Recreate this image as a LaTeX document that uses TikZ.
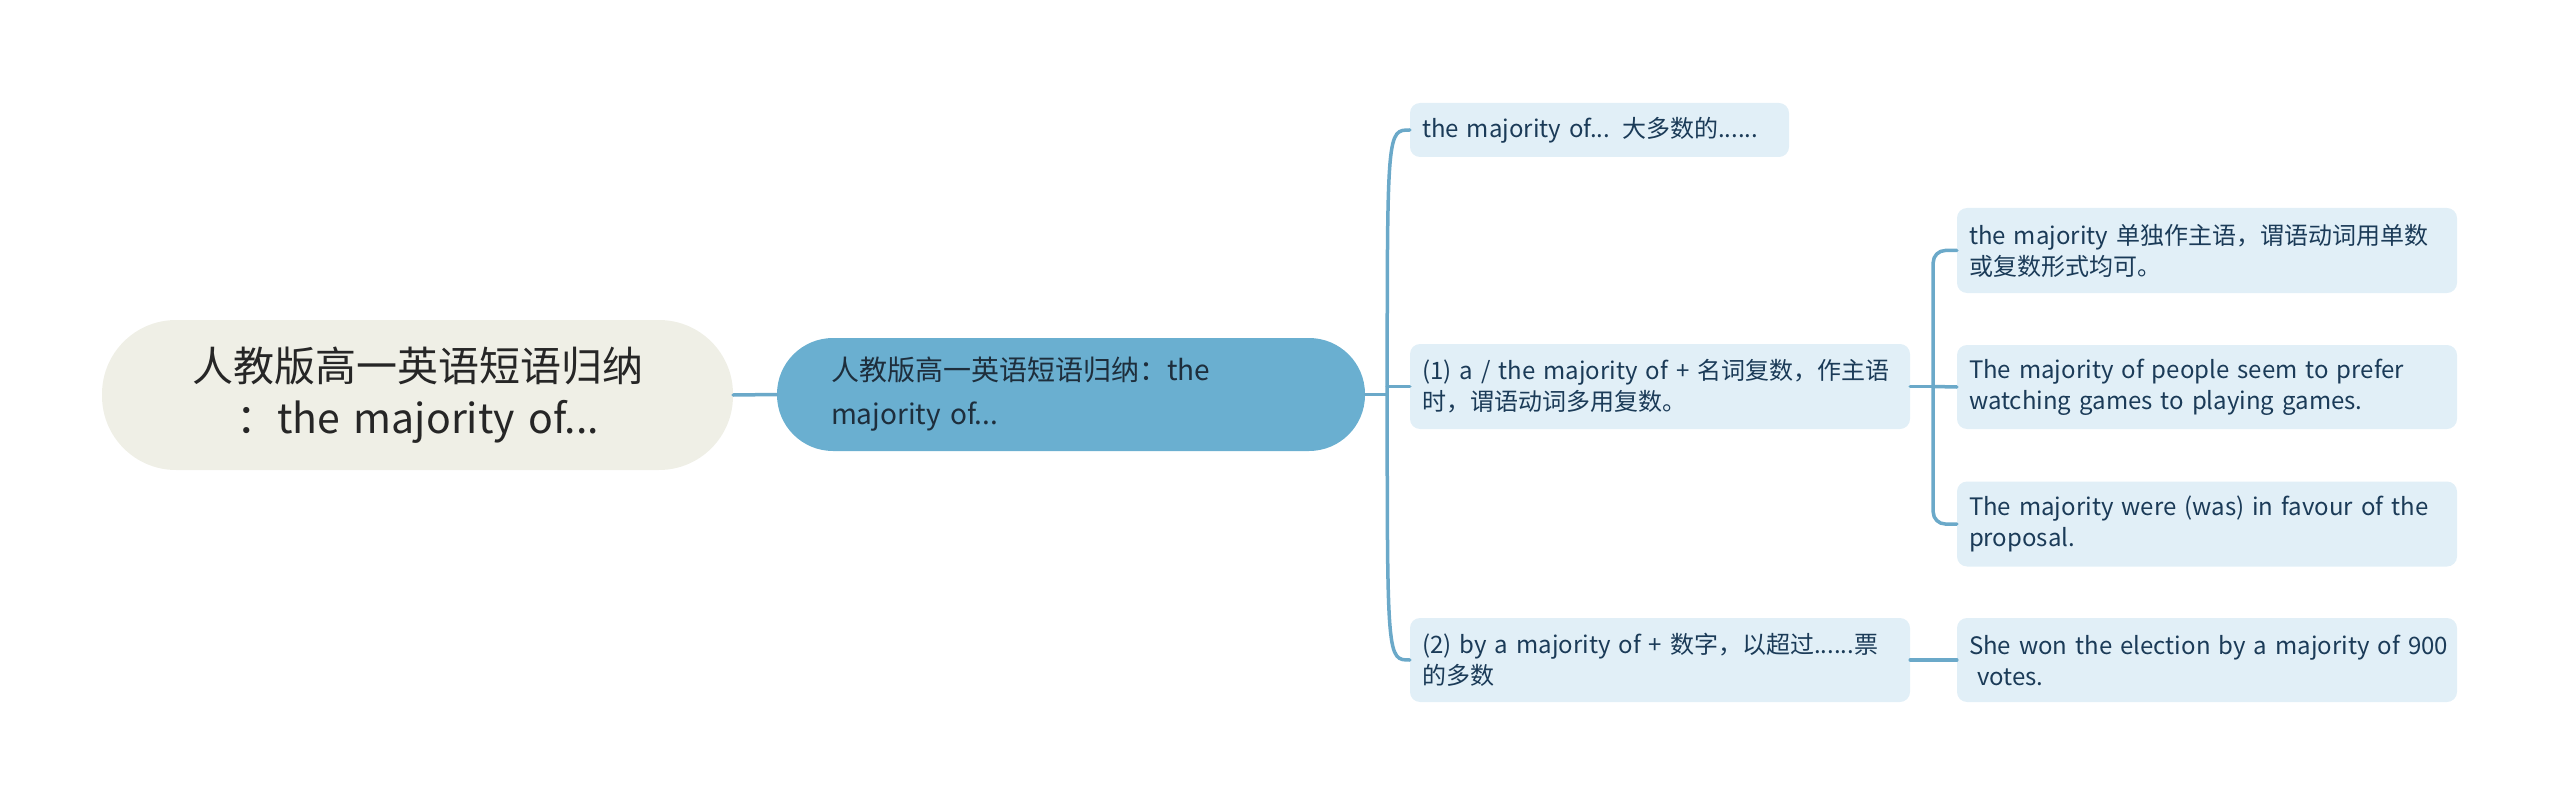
\documentclass[tikz,border=0pt]{standalone}
\usepackage{fontspec}
\setmainfont{Noto Sans CJK SC}
\usetikzlibrary{calc}
\definecolor{rootfill}{HTML}{EFEFE6}
\definecolor{mainfill}{HTML}{6AAFD0}
\definecolor{leaffill}{HTML}{E1EFF7}
\definecolor{linkc}{HTML}{6BA9C9}
\definecolor{leaftext}{HTML}{1B3B58}
\definecolor{maintext}{HTML}{1E2E3C}
\begin{document}
\begin{tikzpicture}[
  x=1pt, y=-1pt,
  line cap=round,
  line join=round,
  rootbox/.style={fill=rootfill, text=black!85, rounded corners=74pt,
    text width=560pt, inner xsep=35.5pt, inner ysep=0pt, minimum height=150pt,
    align=center, font=\fontsize{41}{52}\selectfont},
  mainbox/.style={fill=mainfill, text=maintext, rounded corners=56pt,
    text width=480pt, inner xsep=54pt, inner ysep=0pt, minimum height=113pt,
    align=left, font=\fontsize{28}{44}\selectfont},
  leaf/.style={fill=leaffill, text=leaftext, rounded corners=10pt,
    text width=476pt, inner xsep=12pt, inner ysep=0pt, minimum height=85pt,
    align=left, font=\fontsize{24}{31}\selectfont},
  link/.style={draw=linkc, line width=3.5pt}
]
  \useasboundingbox (0,0) rectangle (2560,805);

  % Центр
  \node[rootbox] (root) at (417.5,395) {人教版高一英语短语归纳\\：the majority of...};
  \node[mainbox] (main) at (1071,394.5) {人教版高一英语短语归纳：the\\majority of...};

  % Второй уровень
  \node[leaf, text width=355pt, minimum height=54pt] (lA) at (1599.5,130)
    {the majority of... 大多数的......};
  \node[leaf] (lB) at (1660,386.5)
    {(1) a / the majority of + 名词复数，作主语\\时，谓语动词多用复数。};
  \node[leaf, minimum height=84pt] (lC) at (1660,660)
    {(2) by a majority of + 数字，以超过......票\\的多数};

  % Примеры
  \node[leaf] (e1) at (2207,250.5)
    {the majority 单独作主语，谓语动词用单数\\或复数形式均可。};
  \node[leaf, minimum height=84pt] (e2) at (2207,387)
    {The majority of people seem to prefer\\watching games to playing games.};
  \node[leaf] (e3) at (2207,524)
    {The majority were (was) in favour of the\\proposal.};
  \node[leaf, minimum height=84pt] (d) at (2207,660)
    {\mbox{She won the election by a majority of 900}\\\ votes.};

  % Связи
  \coordinate (hub) at ($(main.east)+(22,0)$);
  \coordinate (hubB) at ($(lB.east)+(23,0)$);

  \draw[link] (root.east) -- (main.west);
  \draw[link] (main.east) -- (hub);
  \draw[link] (hub) .. controls (hub |- lA.west) .. (lA.west);
  \draw[link] (hub) .. controls (hub |- lC.west) .. (lC.west);
  \draw[link] (hub |- lB.west) -- (lB.west);

  \draw[link] (lB.east) -- (hubB);
  \draw[link, rounded corners=12pt] (hubB) |- (e1.west);
  \draw[link, rounded corners=12pt] (hubB) |- (e3.west);
  \draw[link] (hubB) -- (e2.west);

  \draw[link] (lC.east) -- (d.west);
\end{tikzpicture}
\end{document}
